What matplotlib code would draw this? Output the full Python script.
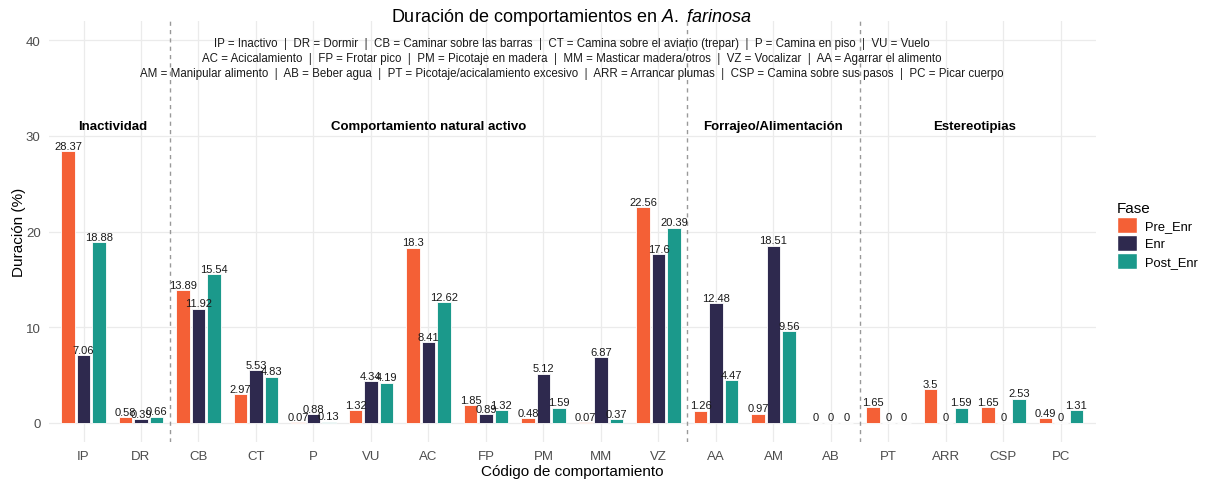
import matplotlib
matplotlib.use("Agg")
import matplotlib.pyplot as plt
from matplotlib.patches import Patch
import numpy as np

plt.rcParams['font.family'] = ['Liberation Sans', 'DejaVu Sans']
plt.rcParams['mathtext.fontset'] = 'custom'
plt.rcParams['mathtext.rm'] = 'Liberation Sans'
plt.rcParams['mathtext.it'] = 'Liberation Sans:italic'

# --- datos ---
codigos = ['IP', 'DR', 'CB', 'CT', 'P', 'VU', 'AC', 'FP', 'PM', 'MM', 'VZ',
           'AA', 'AM', 'AB', 'PT', 'ARR', 'CSP', 'PC']
fases = ['Pre_Enr', 'Enr', 'Post_Enr']
pre_enr = [28.37, 0.58, 13.89, 2.97, 0.07, 1.32, 18.3, 1.85, 0.48, 0.07, 22.56,
           1.26, 0.97, 0, 1.65, 3.5, 1.65, 0.49]
enr = [7.06, 0.39, 11.92, 5.53, 0.88, 4.34, 8.41, 0.89, 5.12, 6.87, 17.6,
       12.48, 18.51, 0, 0, 0, 0, 0]
post_enr = [18.88, 0.66, 15.54, 4.83, 0.13, 4.19, 12.62, 1.32, 1.59, 0.37, 20.39,
            4.47, 9.56, 0, 0, 1.59, 2.53, 1.31]

grupos = ['Inactividad', 'Comportamiento natural activo',
          'Forrajeo/Alimentación', 'Estereotipias']
grupo_inicio = ['IP', 'CB', 'AA', 'PT']
grupo_fin = ['DR', 'VZ', 'AB', 'PC']

leyenda_codigos = [
    'IP = Inactivo  |  DR = Dormir  |  CB = Caminar sobre las barras  |  CT = Camina sobre el aviario (trepar)  |  P = Camina en piso  |  VU = Vuelo',
    'AC = Acicalamiento  |  FP = Frotar pico  |  PM = Picotaje en madera  |  MM = Masticar madera/otros  |  VZ = Vocalizar  |  AA = Agarrar el alimento',
    'AM = Manipular alimento  |  AB = Beber agua  |  PT = Picotaje/acicalamiento excesivo  |  ARR = Arrancar plumas  |  CSP = Camina sobre sus pasos  |  PC = Picar cuerpo',
]
leyenda_y = [39.7, 38.1, 36.55]

colores = ['#F46036', '#2E294E', '#1B998B']

# --- figura ---
fig = plt.figure(figsize=(12.07, 4.81), dpi=100)
W, H = 1207, 481
ax = fig.add_axes([49 / W, (H - 443) / H, (1095.5 - 49) / W, (443 - 22) / H])

x = np.arange(1, len(codigos) + 1)
dodge = 0.8 / 3
ancho = 0.7 / 3
series = [pre_enr, enr, post_enr]
for i, (vals, col) in enumerate(zip(series, colores)):
    xs = x + (i - 1) * dodge
    ax.bar(xs, vals, width=ancho, color=col, edgecolor='white', linewidth=0.6, zorder=2)
    for xi, v in zip(xs, vals):
        ax.annotate(f'{v:g}', (xi, v), xytext=(0, 0.3), textcoords='offset points',
                    ha='center', va='bottom', fontsize=8, color='#1a1a1a', zorder=3)

# separadores de grupos
for g in grupo_fin[:-1]:
    ax.axvline(codigos.index(g) + 1.5, color='#999999', linestyle=(0, (3, 3)),
               linewidth=1, zorder=1)

# etiquetas de grupos
for nombre, a, b in zip(grupos, grupo_inicio, grupo_fin):
    centro = (codigos.index(a) + codigos.index(b)) / 2 + 1
    ax.text(centro, 31, nombre, ha='center', va='center', fontsize=9.5,
            fontweight='bold', color='black')

for linea, yy in zip(leyenda_codigos, leyenda_y):
    ax.text((1 + len(codigos)) / 2, yy, linea, ha='center', va='center',
            fontsize=8.3, color='#1a1a1a')

ax.set_xlim(0.4, len(codigos) + 0.6)
ax.set_ylim(-2, 42)
ax.set_xticks(x)
ax.set_xticklabels(codigos)
ax.set_yticks([0, 10, 20, 30, 40])
ax.tick_params(axis='both', length=0, colors='#4D4D4D', labelsize=9.5)
ax.tick_params(axis='x', pad=6)
ax.tick_params(axis='y', pad=6)
ax.grid(True, color='#EBEBEB', linewidth=0.9, zorder=0)
ax.set_axisbelow(True)
for s in ax.spines.values():
    s.set_visible(False)

ax.set_xlabel('Código de comportamiento', fontsize=11, color='black', labelpad=1)
ax.set_ylabel('Duración (%)', fontsize=11, color='black', labelpad=0)

fig.text(571 / W, 1 - 17 / H, r'Duración de comportamientos en $\it{A.\ farinosa}$',
         ha='center', va='center', fontsize=13)

handles = [Patch(facecolor=c, edgecolor='white') for c in colores]
leg = fig.legend(handles, fases, loc='upper left', bbox_to_anchor=(1117 / W, 1 - 202 / H),
                 frameon=False, title='Fase', fontsize=9.3, title_fontsize=11,
                 handlelength=1.55, handleheight=1.55, handletextpad=0.6,
                 labelspacing=0.15, alignment='left', borderpad=0, borderaxespad=0)

fig.savefig('out.png', dpi=100)
